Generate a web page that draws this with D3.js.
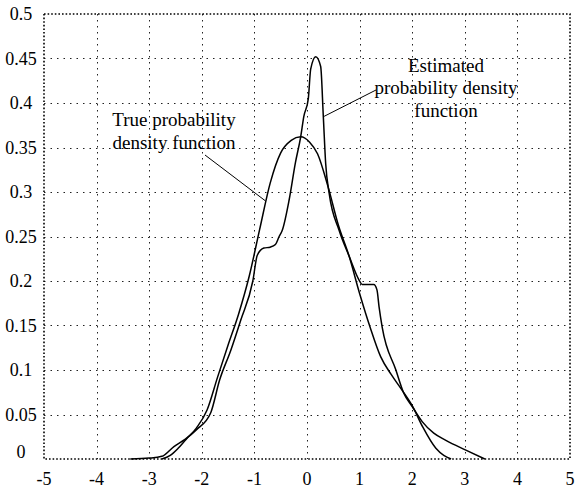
<!DOCTYPE html>
<html>
<head>
<meta charset="utf-8">
<script src="https://cdn.jsdelivr.net/npm/d3@7"></script>
<style>
  html, body { margin: 0; padding: 0; background: #fff; }
  svg text { font-family: "Liberation Serif", "Times New Roman", serif; fill: #000; }
</style>
</head>
<body>
<div id="container"></div>
<script>
const width = 577;
const height = 492;
const marginTop = 14;
const marginRight = 7;
const marginBottom = 33;
const marginLeft = 44;

// tick values
const xTicks = [-5, -4, -3, -2, -1, 0, 1, 2, 3, 4, 5];
const yTicks = [0, 0.05, 0.1, 0.15, 0.2, 0.25, 0.3, 0.35, 0.4, 0.45, 0.5];

// true pdf
const trueX = [-2.76, -2.6, -2.45, -2.3, -2.1, -1.9, -1.7, -1.5, -1.3, -1.1, -0.9, -0.7, -0.5, -0.3, -0.12,
  0.05, 0.2, 0.4, 0.6, 0.8, 1.0, 1.2, 1.4, 1.6, 1.8, 2.0, 2.2, 2.45, 2.6, 2.74];
const trueY = [0, 0.004, 0.012, 0.022, 0.035, 0.055, 0.092, 0.128, 0.163, 0.205, 0.258, 0.310, 0.344, 0.358, 0.362,
  0.356, 0.343, 0.306, 0.262, 0.228, 0.186, 0.148, 0.115, 0.095, 0.078, 0.060, 0.036, 0.012, 0.004, 0];

// estimated pdf
const estX = [-3.36, -3.0, -2.76, -2.53, -2.32, -2.1, -1.83, -1.66, -1.45, -1.26, -1.03, -0.945, -0.82, -0.7, -0.6,
  -0.53, -0.47, -0.34, -0.22, -0.12, -0.06, 0.025, 0.07, 0.166, 0.26, 0.31, 0.355, 0.42, 0.61, 0.8,
  0.99, 1.05, 1.27, 1.33, 1.37, 1.43, 1.69, 1.84, 2.0, 2.19, 2.41, 2.64, 3.02, 3.38];
const estY = [0, 0.001, 0.003, 0.014, 0.022, 0.033, 0.052, 0.089, 0.122, 0.156, 0.2, 0.229, 0.237, 0.238, 0.241,
  0.25, 0.257, 0.291, 0.333, 0.362, 0.385, 0.405, 0.438, 0.452, 0.441, 0.385, 0.332, 0.299, 0.257, 0.228,
  0.201, 0.196, 0.196, 0.190, 0.171, 0.148, 0.100, 0.074, 0.059, 0.042, 0.029, 0.021, 0.010, 0];

const x = d3.scaleLinear().domain([-5, 5]).range([marginLeft, width - marginRight]);
const y = d3.scaleLinear().domain([0, 0.5]).range([height - marginBottom, marginTop]);

const svg = d3.create("svg")
  .attr("width", width)
  .attr("height", height)
  .attr("viewBox", [0, 0, width, height]);

// grid
svg.append("g")
  .selectAll("line")
  .data(xTicks.slice(1, -1))
  .join("line")
    .attr("x1", d => Math.round(x(d)) + 0.5)
    .attr("x2", d => Math.round(x(d)) + 0.5)
    .attr("y1", y(0.5))
    .attr("y2", y(0))
    .attr("stroke", "#222")
    .attr("stroke-dasharray", "1.5,4.5");

svg.append("g")
  .selectAll("line")
  .data(yTicks.slice(1, -1))
  .join("line")
    .attr("x1", x(-5))
    .attr("x2", x(5))
    .attr("y1", d => Math.round(y(d)) + 0.5)
    .attr("y2", d => Math.round(y(d)) + 0.5)
    .attr("stroke", "#222")
    .attr("stroke-dasharray", "1.5,5");

// frame
svg.append("rect")
  .attr("x", x(-5))
  .attr("y", y(0.5))
  .attr("width", x(5) - x(-5))
  .attr("height", y(0) - y(0.5))
  .attr("fill", "none")
  .attr("stroke", "#000")
  .attr("stroke-width", 1.6)
  .attr("stroke-dasharray", "1.6,2");

// tick labels
svg.append("g")
  .attr("font-size", 18)
  .attr("text-anchor", "middle")
  .selectAll("text")
  .data(xTicks)
  .join("text")
    .attr("x", d => x(d))
    .attr("y", y(0) + 26)
    .text(d => d < 0 ? "-" + Math.abs(d) : d);

svg.append("g")
  .attr("font-size", 18)
  .attr("text-anchor", "middle")
  .selectAll("text")
  .data(yTicks)
  .join("text")
    .attr("x", 21)
    .attr("y", d => y(d) + (d === 0 ? -1 : 6))
    .text(d => d);

// curves
const line = d3.line()
  .x(d => x(d[0]))
  .y(d => y(d[1]))
  .curve(d3.curveMonotoneX);

svg.append("path")
  .datum(d3.zip(trueX, trueY))
  .attr("fill", "none")
  .attr("stroke", "#000")
  .attr("stroke-width", 1.5)
  .attr("d", line);

svg.append("path")
  .datum(d3.zip(estX, estY))
  .attr("fill", "none")
  .attr("stroke", "#000")
  .attr("stroke-width", 1.5)
  .attr("d", line);

// annotations
const notes = svg.append("g").attr("font-size", 19).attr("text-anchor", "middle");
notes.append("text").attr("x", 174).attr("y", 126).text("True probability");
notes.append("text").attr("x", 174).attr("y", 149).text("density function");
notes.append("line")
  .attr("x1", 205).attr("y1", 155)
  .attr("x2", x(-0.79)).attr("y2", y(0.29))
  .attr("stroke", "#000");

notes.append("text").attr("x", 446).attr("y", 72).text("Estimated");
notes.append("text").attr("x", 446).attr("y", 94).text("probability density");
notes.append("text").attr("x", 446).attr("y", 117).text("function");
notes.append("line")
  .attr("x1", 376).attr("y1", 90)
  .attr("x2", x(0.325)).attr("y2", y(0.385))
  .attr("stroke", "#000");

document.getElementById("container").appendChild(svg.node());
</script>
</body>
</html>
